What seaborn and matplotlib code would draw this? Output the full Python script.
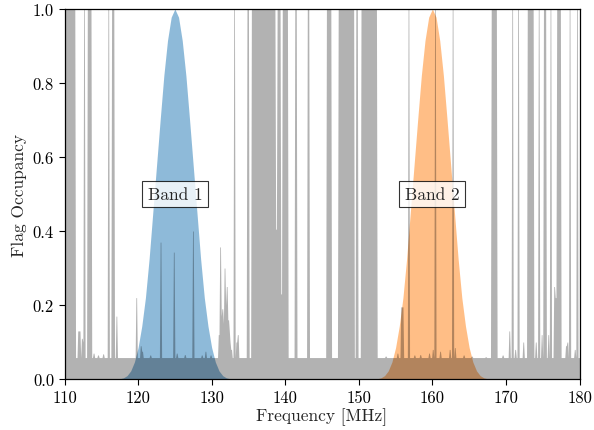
import numpy as np
import pandas as pd
import matplotlib
matplotlib.use("Agg")
import matplotlib.pyplot as plt
import seaborn as sns

# ---------------- data ----------------
# Band responses (sampled every 0.5 MHz)
band1_freq = [117.0 + 0.5 * i for i in range(33)]
band2_freq = [152.0 + 0.5 * i for i in range(33)]
band_resp = [0.0, 0.0007, 0.0031, 0.0091, 0.022, 0.046, 0.085, 0.143, 0.22,
             0.325, 0.45, 0.575, 0.70, 0.82, 0.915, 0.978, 1.0,
             0.978, 0.915, 0.82, 0.70, 0.575, 0.45, 0.325, 0.22,
             0.143, 0.085, 0.046, 0.022, 0.0091, 0.0031, 0.0007, 0.0]
band_labels = ["Band 1", "Band 2"]
band_centres = [125.0, 160.0]

# Flag occupancy spectrum
baseline_occ = 0.058
# flagged ranges: (start MHz, end MHz, occupancy)
flag_start = [110.0, 112.55, 113.1, 115.9, 116.4, 133.0, 134.8, 135.35, 138.6, 138.9,
              139.3, 139.55, 141.3, 143.0, 145.6, 147.2, 149.6, 150.3, 155.7, 156.7,
              160.25, 162.65, 168.0, 170.8, 171.6, 172.85, 174.4, 175.05, 175.95,
              176.85, 178.55, 179.6]
flag_end = [111.4, 112.7, 113.6, 116.05, 116.7, 133.1, 135.0, 138.6, 138.9, 139.3,
            139.55, 140.3, 141.55, 143.2, 146.2, 149.35, 149.8, 152.45, 156.05, 156.85,
            160.4, 162.8, 168.75, 170.95, 171.75, 173.7, 174.55, 175.4, 176.1,
            177.4, 178.7, 179.75]
flag_level = [1.0, 1.0, 1.0, 1.0, 1.0, 1.0, 1.0, 1.0, 0.405, 1.0,
              0.23, 1.0, 1.0, 1.0, 1.0, 1.0, 1.0, 1.0, 0.195, 1.0,
              1.0, 1.0, 1.0, 1.0, 1.0, 1.0, 1.0, 1.0, 1.0,
              1.0, 1.0, 1.0]
# narrow spikes: (freq MHz, occupancy)
spike_freq = [111.8, 112.0, 112.3, 112.45, 113.9, 114.5, 115.2, 117.0, 119.7, 120.3,
              120.5, 121.6, 123.0, 124.8, 125.2, 126.3, 127.4, 128.6, 129.1, 129.8,
              130.9, 131.1, 131.25, 131.4, 131.55, 131.7, 131.85, 132.0, 132.15, 132.3,
              132.45, 132.6, 133.3, 133.5, 153.6, 155.2, 157.5, 158.3, 159.5, 160.0,
              161.0, 162.3, 163.0, 164.2, 165.3, 167.2, 169.5, 170.4, 171.2, 172.3,
              174.0, 174.8, 175.7, 176.5, 176.7, 178.1, 178.3, 179.3]
spike_occ = [0.13, 0.13, 0.11, 0.10, 0.07, 0.065, 0.068, 0.17, 0.22, 0.09,
             0.075, 0.065, 0.37, 0.343, 0.07, 0.066, 0.40, 0.065, 0.075, 0.065,
             0.12, 0.357, 0.17, 0.19, 0.15, 0.30, 0.20, 0.25, 0.16, 0.13,
             0.10, 0.08, 0.10, 0.12, 0.062, 0.07, 0.065, 0.066, 0.07, 0.08,
             0.075, 0.08, 0.085, 0.065, 0.062, 0.06, 0.065, 0.13, 0.08, 0.10,
             0.10, 0.12, 0.12, 0.25, 0.22, 0.09, 0.10, 0.08]

x_ticks = [110, 120, 130, 140, 150, 160, 170, 180]
y_ticks = [0.0, 0.2, 0.4, 0.6, 0.8, 1.0]

# ---------------- build the channel table (0.1 MHz channels) ----------------
chan_freq = np.round(np.arange(110.0, 180.0001, 0.1), 3)
chan_occ = np.full(chan_freq.shape, baseline_occ)
for a, b, lev in zip(flag_start, flag_end, flag_level):
    m = (chan_freq >= a - 1e-9) & (chan_freq <= b + 1e-9)
    if m.sum() < 2:
        i = int(np.argmin(np.abs(chan_freq - 0.5 * (a + b))))
        m[i:i + 2] = True
    chan_occ[m] = np.maximum(chan_occ[m], lev)
for f, h in zip(spike_freq, spike_occ):
    i = int(np.argmin(np.abs(chan_freq - f)))
    chan_occ[i:i + 2] = np.maximum(chan_occ[i:i + 2], h)
spec = pd.DataFrame({"freq": chan_freq, "occ": chan_occ})

bands = pd.concat([
    pd.DataFrame({"freq": band1_freq, "resp": band_resp, "band": band_labels[0]}),
    pd.DataFrame({"freq": band2_freq, "resp": band_resp, "band": band_labels[1]}),
])

# ---------------- plotting ----------------
sns.set_style("ticks")
plt.rcParams["font.family"] = ["cmr10", "DejaVu Serif"]
plt.rcParams["mathtext.fontset"] = "cm"
plt.rcParams["axes.formatter.use_mathtext"] = True
plt.rcParams["axes.unicode_minus"] = False

fig, ax = plt.subplots(figsize=(5.94, 4.31), dpi=100)
fig.subplots_adjust(left=0.1086, right=0.9756, top=0.9768, bottom=0.1183)

band_colors = ["#1f77b4", "#ff7f0e"]
for lab, col in zip(band_labels, band_colors):
    d = bands[bands["band"] == lab]
    sns.lineplot(data=d, x="freq", y="resp", ax=ax, color=col, lw=0, alpha=0.5)
    ax.fill_between(d["freq"], 0, d["resp"], color=col, alpha=0.5, lw=0)

sns.lineplot(data=spec, x="freq", y="occ", ax=ax, color="k", lw=0, alpha=0.3)
ax.fill_between(spec["freq"], 0, spec["occ"], color="k", alpha=0.3, lw=0)

for lab, c in zip(band_labels, band_centres):
    ax.text(c, 0.5, lab, ha="center", va="center", fontsize=12.5,
            bbox=dict(facecolor="white", alpha=0.8, edgecolor="black", lw=0.8))

ax.set_xlim(110, 180)
ax.set_ylim(0, 1)
ax.set_xticks(x_ticks)
ax.set_yticks(y_ticks)
ax.set_xticklabels([str(t) for t in x_ticks])
ax.set_yticklabels([f"{t:.1f}" for t in y_ticks])
ax.tick_params(labelsize=12, length=4, width=0.8, colors="black")
ax.set_xlabel("Frequency [MHz]", fontsize=12.5, labelpad=2)
ax.set_ylabel("Flag Occupancy", fontsize=12.5, labelpad=4)
for s in ax.spines.values():
    s.set_color("black")
    s.set_linewidth(0.9)

fig.savefig("out.png", dpi=100)
